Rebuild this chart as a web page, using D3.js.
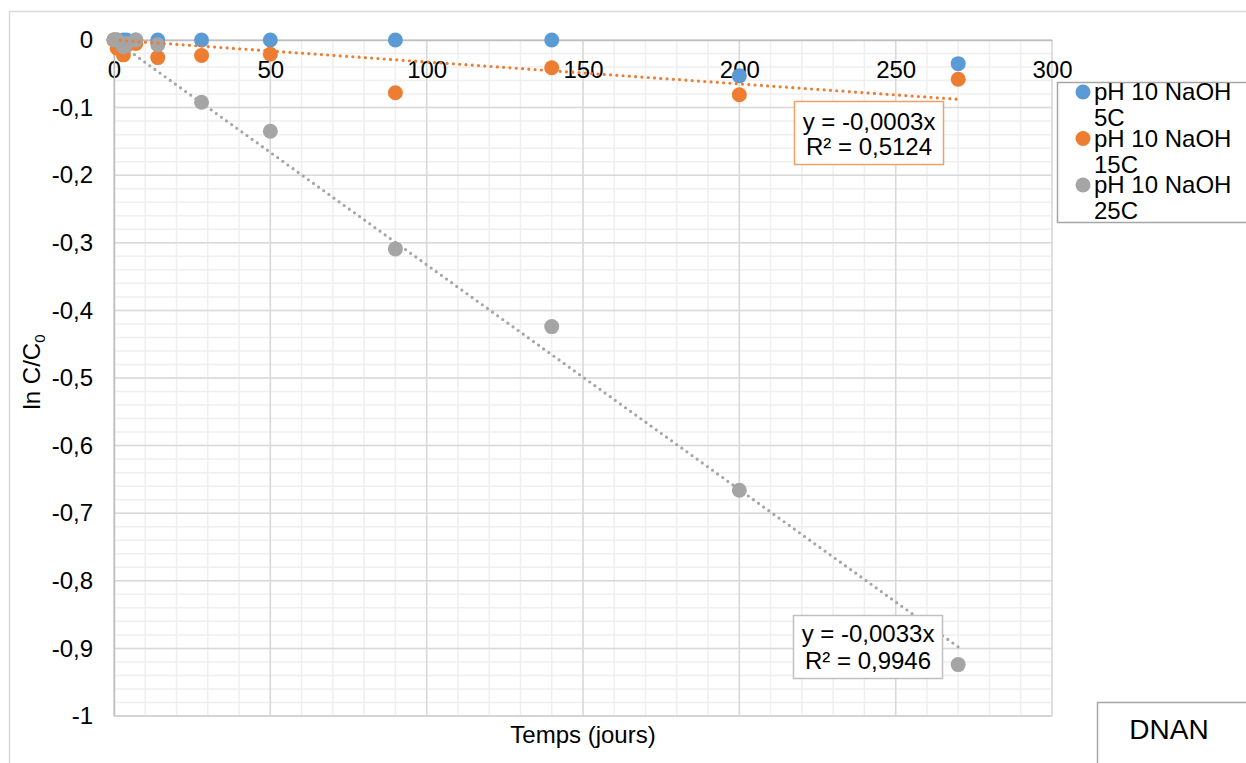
<!DOCTYPE html>
<html>
<head>
<meta charset="utf-8">
<script src="https://cdn.jsdelivr.net/npm/d3@7"></script>
<style>
  html, body { margin: 0; padding: 0; background: #fff; }
  svg { display: block; font-family: "Liberation Sans", Arial, sans-serif; }
</style>
</head>
<body>
<svg id="chart" width="1246" height="763"></svg>
<script>
// ---- data ----
const times = [0, 1, 3, 4, 7, 14, 28, 50, 90, 140, 200, 270];
const series5C  = [0, 0, 0, 0, 0, 0, 0, 0, 0, 0, -0.053, -0.035];
const series15C = [0, -0.012, -0.022, -0.008, -0.005, -0.026, -0.023, -0.021, -0.078, -0.041, -0.081, -0.058];
const series25C = [0, 0, -0.010, -0.005, 0, -0.007, -0.092, -0.135, -0.309, -0.424, -0.666, -0.924];
const seriesNames = ["pH 10 NaOH 5C", "pH 10 NaOH 15C", "pH 10 NaOH 25C"];
const seriesColors = ["#5B9BD5", "#ED7D31", "#A5A5A5"];
const xTicks = [0, 50, 100, 150, 200, 250, 300];
const yTicks = [0, -0.1, -0.2, -0.3, -0.4, -0.5, -0.6, -0.7, -0.8, -0.9, -1];
const trend15Label = ["y = -0,0003x", "R² = 0,5124"];
const trend25Label = ["y = -0,0033x", "R² = 0,9946"];
const xTitle = "Temps (jours)";
const chartTag = "DNAN";

// ---- setup ----
const svg = d3.select("#chart");
const FS = 24;
const x = d3.scaleLinear().domain([0, 300]).range([114, 1052]);
const y = d3.scaleLinear().domain([-1, 0]).range([716, 40]);
const loc = d3.formatLocale({decimal: ",", thousands: " ", grouping: [3], currency: ["", ""]});
const fmt = v => loc.format("")(+v.toFixed(2)).replace("−", "-");

// outer chart border
svg.append("rect").attr("x", 9.5).attr("y", 11.5).attr("width", 1300).attr("height", 800)
  .attr("fill", "none").attr("stroke", "#d9d9d9").attr("stroke-width", 1.5);

// minor gridlines
const g = svg.append("g");
g.selectAll(".vminor").data(d3.range(0, 301, 10)).join("line")
  .attr("x1", d => x(d)).attr("x2", d => x(d)).attr("y1", y(0)).attr("y2", y(-1))
  .attr("stroke", "#efefef").attr("stroke-width", 1.5);
g.selectAll(".hminor").data(d3.range(0, 51).map(i => -i * 0.02)).join("line")
  .attr("x1", x(0)).attr("x2", x(300)).attr("y1", d => y(d)).attr("y2", d => y(d))
  .attr("stroke", "#efefef").attr("stroke-width", 1.5);
// major gridlines
g.selectAll(".vmajor").data(xTicks).join("line")
  .attr("x1", d => x(d)).attr("x2", d => x(d)).attr("y1", y(0)).attr("y2", y(-1))
  .attr("stroke", "#d9d9d9").attr("stroke-width", 1.5);
g.selectAll(".hmajor").data(yTicks).join("line")
  .attr("x1", x(0)).attr("x2", x(300)).attr("y1", d => y(d)).attr("y2", d => y(d))
  .attr("stroke", "#d9d9d9").attr("stroke-width", 1.5);

// axes
const xAxis = svg.append("g").attr("transform", `translate(0,${y(0)})`)
  .call(d3.axisBottom(x).tickValues(xTicks).tickSize(0).tickPadding(21).tickFormat(d => String(d)));
const yAxis = svg.append("g").attr("transform", `translate(${x(0)},0)`)
  .call(d3.axisLeft(y).tickValues(yTicks).tickSize(0).tickPadding(21).tickFormat(fmt));
[xAxis, yAxis].forEach(a => {
  a.select(".domain").attr("stroke", "#bfbfbf").attr("stroke-width", 1.5);
  a.selectAll("text").attr("font-size", FS).attr("fill", "#000")
    .attr("font-family", "Liberation Sans, Arial, sans-serif");
});
// bottom edge line
svg.append("line").attr("x1", x(0)).attr("x2", x(300)).attr("y1", y(-1)).attr("y2", y(-1))
  .attr("stroke", "#d0d0d0").attr("stroke-width", 1.5);

// markers
const allSeries = [series5C, series15C, series25C];
allSeries.forEach((s, i) => {
  svg.append("g").selectAll("circle").data(times.map((t, j) => [t, s[j]])).join("circle")
    .attr("cx", d => x(d[0])).attr("cy", d => y(d[1])).attr("r", 7.5)
    .attr("fill", seriesColors[i]);
});

// trendlines (linear, intercept 0)
function slopeThroughOrigin(xs, ys) {
  const sxy = d3.sum(xs, (v, i) => v * ys[i]);
  const sxx = d3.sum(xs, v => v * v);
  return sxy / sxx;
}
[[series15C, seriesColors[1]], [series25C, seriesColors[2]]].forEach(([s, c]) => {
  const m = slopeThroughOrigin(times, s);
  const x0 = d3.min(times), x1 = d3.max(times);
  svg.append("line")
    .attr("x1", x(x0)).attr("y1", y(m * x0)).attr("x2", x(x1)).attr("y2", y(m * x1))
    .attr("stroke", c).attr("stroke-width", 3.2).attr("stroke-linecap", "round")
    .attr("stroke-dasharray", "0 6.3");
});

// trendline labels
function trendBox(lines, bx, by, bw, bh, stroke, cy1, cy2) {
  svg.append("rect").attr("x", bx).attr("y", by).attr("width", bw).attr("height", bh)
    .attr("fill", "#fff").attr("stroke", stroke).attr("stroke-width", 1.5);
  const cx = bx + bw / 2;
  [cy1, cy2].forEach((cy, i) => {
    svg.append("text").attr("x", cx).attr("y", cy).attr("dy", "0.35em")
      .attr("text-anchor", "middle").attr("font-size", FS).attr("fill", "#000").text(lines[i]);
  });
}
trendBox(trend15Label, 794.5, 101.5, 149, 63, "#F0A06A", 122, 147);
trendBox(trend25Label, 793.5, 615.5, 149, 63, "#bfbfbf", 634, 661);

// legend
svg.append("rect").attr("x", 1057.5).attr("y", 82.5).attr("width", 220).attr("height", 140)
  .attr("fill", "#fff").attr("stroke", "#a6a6a6").attr("stroke-width", 1.5);
seriesNames.forEach((name, i) => {
  const cy = 92 + i * 46.5;
  svg.append("circle").attr("cx", 1083).attr("cy", cy).attr("r", 7.5).attr("fill", seriesColors[i]);
  const parts = [name.slice(0, name.lastIndexOf(" ")), name.slice(name.lastIndexOf(" ") + 1)];
  parts.forEach((p, k) => {
    svg.append("text").attr("x", 1094).attr("y", cy + k * 26).attr("dy", "0.35em")
      .attr("font-size", FS).attr("fill", "#000").text(p);
  });
});

// DNAN tag box
svg.append("rect").attr("x", 1097.5).attr("y", 702.5).attr("width", 200).attr("height", 100)
  .attr("fill", "#fff").attr("stroke", "#a6a6a6").attr("stroke-width", 1.5);
svg.append("text").attr("x", 1169).attr("y", 729).attr("dy", "0.35em").attr("text-anchor", "middle")
  .attr("font-size", 28).attr("fill", "#000").text(chartTag);

// axis titles
svg.append("text").attr("x", 583).attr("y", 743).attr("text-anchor", "middle")
  .attr("font-size", FS).attr("fill", "#000").text(xTitle);
const yt = svg.append("text").attr("transform", "translate(40,372) rotate(-90)")
  .attr("text-anchor", "middle").attr("font-size", FS).attr("fill", "#000");
yt.append("tspan").text("ln C/C");
yt.append("tspan").attr("font-size", 15).attr("dy", 5).text("0");
</script>
</body>
</html>
